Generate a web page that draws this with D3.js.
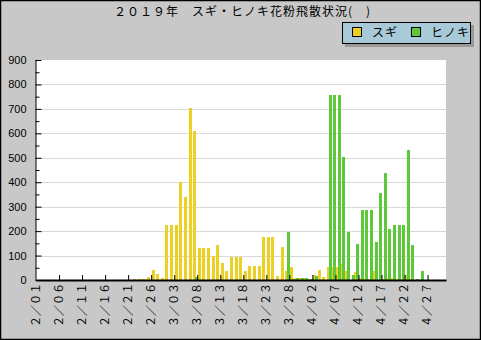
<!DOCTYPE html>
<html>
<head>
<meta charset="utf-8">
<script src="https://cdn.jsdelivr.net/npm/d3@7"></script>
<style>
  body { margin: 0; background: #c8c8c8; }
  text { font-family: 'Noto Sans CJK JP', sans-serif; }
</style>
</head>
<body>
<div id="chart"></div>
<script>
// 2019/02/01 から 4/30 まで 1日ごと
const firstDay = new Date(2019, 1, 1)
const lastDay = new Date(2019, 4, 1)
const days = d3.timeDay.range(firstDay, lastDay)

// スギ (2/01 ～ 4/30)
const sugi = [
  0, 0, 0, 0, 0, 0, 0, 0, 0, 0,
  0, 0, 0, 0, 0, 0, 0, 0, 0, 0,
  0, 4, 4, 4, 12, 41, 25, 8, 225, 225,
  225, 400, 340, 705, 610, 130, 130, 130, 100, 145,
  70, 37, 95, 95, 95, 37, 57, 57, 57, 176,
  176, 176, 16, 135, 37, 53, 8, 8, 8, 4,
  20, 41, 12, 53, 53, 53, 65, 37, 0, 33,
  8, 4, 4, 37, 0, 4, 8, 8, 4, 4,
  20, 4, 0, 0, 0, 0, 0, 0, 0
]
// ヒノキ
const hinoki = [
  0, 0, 0, 0, 0, 0, 0, 0, 0, 0,
  0, 0, 0, 0, 0, 0, 0, 0, 0, 0,
  0, 0, 0, 0, 0, 0, 0, 0, 0, 0,
  0, 0, 0, 0, 12, 0, 0, 0, 0, 0,
  0, 0, 0, 0, 0, 0, 0, 0, 0, 0,
  0, 0, 0, 0, 196, 4, 8, 8, 8, 4,
  16, 0, 0, 757, 757, 757, 504, 196, 20, 147,
  286, 286, 286, 155, 356, 438, 209, 225, 225, 225,
  532, 143, 4, 37, 0, 0, 0, 0, 0
]

const seriesNames = ['スギ', 'ヒノキ']
const seriesColors = ['#ecd124', '#5cc83a']
const tickLabels = ['2/01', '2/06', '2/11', '2/16', '2/21', '2/26', '3/03', '3/08', '3/13',
  '3/18', '3/23', '3/28', '4/02', '4/07', '4/12', '4/17', '4/22', '4/27']
const yTicks = [0, 100, 200, 300, 400, 500, 600, 700, 800, 900]
const yMinorTicks = [50, 150, 250, 350, 450, 550, 650, 750, 850]
const title = '２０１９年　スギ・ヒノキ花粉飛散状況(　)'

// 半角 → 全角
function toWide (s) {
  return s.replace(/[0-9\/]/g, c => String.fromCharCode(c.charCodeAt(0) + 0xFEE0))
}

let width = 481
let height = 340
let plotLeft = 36, plotRight = 446, plotTop = 60, plotBottom = 280

let svg = d3.select('#chart').append('svg').attr('width', width).attr('height', height)

// 背景
svg.append('rect').attr('x', 0.5).attr('y', 0.5).attr('width', width - 1).attr('height', height - 1)
  .attr('fill', '#c8c8c8').attr('stroke', '#000').attr('stroke-width', 1.5)

svg.append('rect').attr('x', plotLeft).attr('y', plotTop)
  .attr('width', plotRight - plotLeft).attr('height', plotBottom - plotTop)
  .attr('fill', '#fff')

// 比例尺
let x = d3.scaleLinear().domain([0, days.length]).range([plotLeft, plotRight])
let y = d3.scaleLinear().domain([0, 900]).range([plotBottom, plotTop])

// 背景軸線
svg.append('g').selectAll('line').data(yTicks.filter(v => v > 0 && v < 900)).join('line')
  .attr('x1', plotLeft).attr('x2', plotRight)
  .attr('y1', d => Math.round(y(d)) + 0.5).attr('y2', d => Math.round(y(d)) + 0.5)
  .attr('stroke', '#d8d8d8').attr('stroke-width', 1)

// 棒グラフ
let series = [sugi, hinoki]
let offsets = [0.5, 2.3]
series.forEach((vals, s) => {
  svg.append('g').attr('shape-rendering', 'crispEdges')
    .selectAll('rect').data(vals).join('rect')
    .attr('fill', seriesColors[s])
    .attr('x', (d, i) => x(i) + offsets[s])
    .attr('width', 3)
    .attr('y', d => y(d))
    .attr('height', d => plotBottom - y(d))
})

// 縦軸
let yAxis = d3.axisLeft(y).tickValues(yTicks).tickSize(-6).tickSizeOuter(0).tickPadding(9)
let gy = svg.append('g').attr('transform', 'translate(' + (plotLeft - 0.5) + ',0)').call(yAxis)
gy.select('.domain').attr('stroke', '#000')
gy.selectAll('.tick line').attr('stroke', '#000')
gy.selectAll('.tick text').attr('fill', '#000')
  .style('font-family', 'Liberation Sans, sans-serif').style('font-size', '11px')
let yMinor = d3.axisLeft(y).tickValues(yMinorTicks).tickSize(-4).tickSizeOuter(0).tickFormat('')
let gym = svg.append('g').attr('transform', 'translate(' + (plotLeft - 0.5) + ',0)').call(yMinor)
gym.select('.domain').remove()
gym.selectAll('.tick line').attr('stroke', '#000')

// 横軸
let tickDays = tickLabels.map(t => d3.timeDay.count(firstDay, d3.timeParse('%Y/%m/%d')('2019/' + t)))
let xAxis = d3.axisBottom(x).tickValues(tickDays).tickSize(-5).tickSizeOuter(0).tickFormat('')
let gx = svg.append('g').attr('transform', 'translate(0,' + plotBottom + ')').call(xAxis)
gx.select('.domain').attr('stroke', '#000').attr('stroke-width', 2)
gx.selectAll('.tick line').attr('stroke', '#000')
gx.selectAll('.tick').filter(d => d === 0).select('line').remove()

// 横軸ラベル
svg.append('g').selectAll('text').data(tickLabels).join('text')
  .attr('transform', (d, i) => 'translate(' + x(tickDays[i]) + ',' + 283 + ') rotate(-90)')
  .attr('text-anchor', 'end')
  .attr('dy', '0.35em')
  .style('font-size', '11px')
  .attr('fill', '#000')
  .text(d => toWide(d))

// タイトル
svg.append('text').attr('x', 114).attr('y', 16).text(title)
  .style('font-size', '12px').style('letter-spacing', '1px').attr('fill', '#000')

// 凡例
let lg = svg.append('g')
lg.append('rect').attr('x', 345).attr('y', 25).attr('width', 129).attr('height', 22).attr('fill', '#999')
lg.append('rect').attr('x', 342.5).attr('y', 22.5).attr('width', 128).attr('height', 21)
  .attr('fill', '#a8cad8').attr('stroke', '#000').attr('stroke-width', 1)
let legendX = [352, 411]
seriesNames.forEach((name, i) => {
  lg.append('rect').attr('x', legendX[i] + 0.5).attr('y', 27.5).attr('width', 9).attr('height', 9)
    .attr('fill', seriesColors[i]).attr('stroke', '#000')
  lg.append('text').attr('x', legendX[i] + 20).attr('y', 37).text(name)
    .style('font-size', '12px').style('letter-spacing', '1px').attr('fill', '#000')
})
</script>
</body>
</html>
